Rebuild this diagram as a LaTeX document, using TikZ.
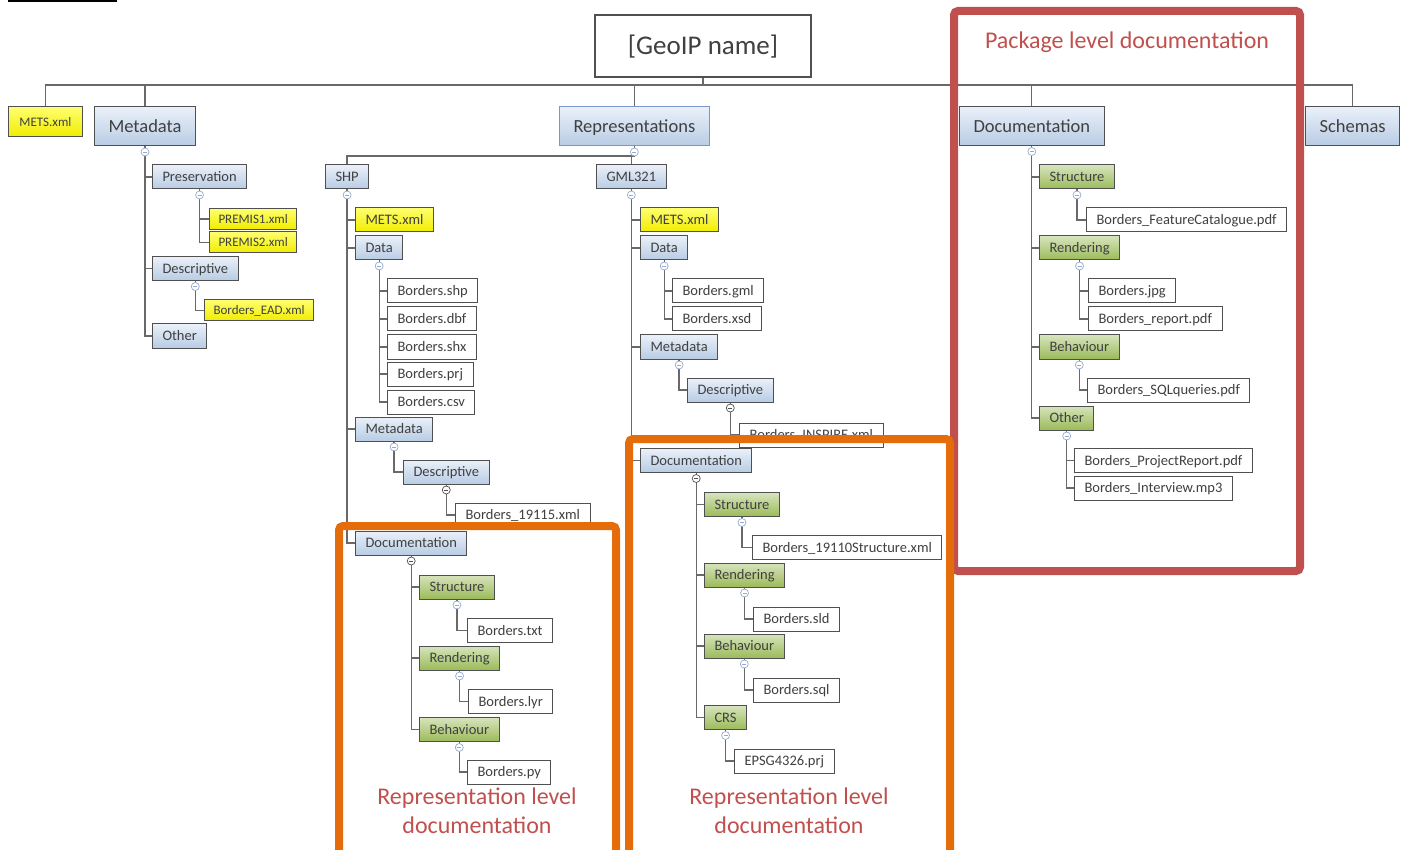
\documentclass[tikz,border=0pt]{standalone}
\usepackage{fontspec}
\setmainfont{Carlito}
\usepackage{tikz}
\usetikzlibrary{backgrounds, calc}
\definecolor{txt}{RGB}{64, 64, 64}
\definecolor{boxline}{RGB}{80, 80, 80}
\definecolor{linegray}{RGB}{105, 105, 105}
\definecolor{blueTop}{RGB}{234, 240, 249}
\definecolor{blueBot}{RGB}{184, 204, 228}
\definecolor{repsline}{RGB}{120, 152, 205}
\definecolor{yelTop}{RGB}{255, 255, 110}
\definecolor{yelBot}{RGB}{240, 236, 0}
\definecolor{grnTop}{RGB}{215, 228, 189}
\definecolor{grnBot}{RGB}{155, 187, 89}
\definecolor{knobblue}{RGB}{150, 170, 205}
\definecolor{redframe}{RGB}{192, 80, 77}
\definecolor{orangeframe}{RGB}{228, 108, 10}

\tikzset{
  box/.style={draw=boxline, line width=1pt, anchor=west, inner xsep=10pt, inner ysep=0pt,
    minimum height=24pt, text=txt, text height=12.8pt, text depth=3.2pt,
    font=\fontsize{14.5}{16}\selectfont},
  bluebox/.style={box, top color=blueTop, bottom color=blueBot},
  yelbox/.style={box, top color=yelTop, bottom color=yelBot},
  greenbox/.style={box, top color=grnTop, bottom color=grnBot},
  filebox/.style={box, fill=white},
  big/.style={minimum height=39pt, inner xsep=14pt, text height=16.2pt, text depth=4pt,
    font=\fontsize{18.5}{20}\selectfont},
  small/.style={minimum height=21pt, inner xsep=9pt, text height=11.6pt, text depth=3pt,
    font=\fontsize{13}{15}\selectfont},
  rootbox/.style={draw=boxline, line width=1.2pt, fill=white, minimum width=216pt,
    minimum height=62pt, text=txt, text height=24pt, text depth=6pt,
    font=\fontsize{27}{30}\selectfont},
  link/.style={draw=linegray, line width=1.3pt},
  knob/.style={circle, draw=#1, fill=white, line width=0.7pt, inner sep=0pt, minimum size=8pt,
    path picture={\draw[#1, line width=0.7pt] ([xshift=-2pt]path picture bounding box.center)
      -- ([xshift=2pt]path picture bounding box.center);}},
  knob/.default=knobblue,
  labeltext/.style={text=redframe, align=center, font=\fontsize{24}{29}\selectfont}
}

\begin{document}
\begin{tikzpicture}[x=1pt, y=-1pt]
  \useasboundingbox (0, 0) rectangle (1403, 850);
  \draw[color=black, line width=1.5pt] (8, 1) to (117, 1);

  % top level
  \node[rootbox] (root) at (703, 46) {[GeoIP name]};
  \node[yelbox, small, minimum height=30pt, inner xsep=11pt] (mets) at (8, 122) {METS.xml};
  \node[bluebox, big] (meta) at (94, 126.5) {Metadata};
  \node[bluebox, big, draw=repsline] (reps) at (559, 126.5) {Representations};
  \node[bluebox, big] (docs) at (959, 126) {Documentation};
  \node[bluebox, big] (schemas) at (1305, 126) {Schemas};

  % metadata
  \node[bluebox] (pres) at (152, 177) {Preservation};
  \node[yelbox, small] (premA) at (209, 219) {PREMIS1.xml};
  \node[yelbox, small] (premB) at (209, 242.5) {PREMIS2.xml};
  \node[bluebox] (mdesc) at (152, 268.5) {Descriptive};
  \node[yelbox, small] (ead) at (204, 310.5) {Borders\_EAD.xml};
  \node[bluebox] (mother) at (152, 336) {Other};

  % SHP
  \node[bluebox] (shp) at (325, 177) {SHP};
  \node[yelbox] (shpmets) at (355, 220) {METS.xml};
  \node[bluebox] (shpdata) at (355, 248) {Data};
  \node[filebox] (shpA) at (387, 291) {Borders.shp};
  \node[filebox] (shpB) at (387, 319) {Borders.dbf};
  \node[filebox] (shpC) at (387, 347) {Borders.shx};
  \node[filebox] (shpD) at (387, 374) {Borders.prj};
  \node[filebox] (shpE) at (387, 402) {Borders.csv};
  \node[bluebox] (shpmeta) at (355, 429) {Metadata};
  \node[bluebox] (shpdesc) at (403, 472) {Descriptive};
  \node[filebox] (shpiso) at (455, 515) {Borders\_19115.xml};
  \node[bluebox] (shpdoc) at (355, 543) {Documentation};
  \node[greenbox] (shpstr) at (419, 587) {Structure};
  \node[filebox] (shptxt) at (467, 630.5) {Borders.txt};
  \node[greenbox] (shpren) at (419, 658) {Rendering};
  \node[filebox] (shplyr) at (468, 701.5) {Borders.lyr};
  \node[greenbox] (shpbeh) at (419, 729.5) {Behaviour};
  \node[filebox] (shppy) at (467, 772) {Borders.py};

  % GML321
  \node[bluebox] (gml) at (596, 177) {GML321};
  \node[yelbox] (gmlmets) at (640, 220) {METS.xml};
  \node[bluebox] (gmldata) at (640, 248) {Data};
  \node[filebox] (gmlA) at (672, 291) {Borders.gml};
  \node[filebox] (gmlB) at (672, 319) {Borders.xsd};
  \node[bluebox] (gmlmeta) at (640, 347) {Metadata};
  \node[bluebox] (gmldesc) at (687, 390) {Descriptive};
  \node[filebox] (gmlinsp) at (739, 435) {Borders\_INSPIRE.xml};
  \node[bluebox] (gmldoc) at (640, 460.5) {Documentation};
  \node[greenbox] (gmlstr) at (704, 504.5) {Structure};
  \node[filebox] (gmlxml) at (752, 547.5) {Borders\_19110Structure.xml};
  \node[greenbox] (gmlren) at (704, 575) {Rendering};
  \node[filebox] (gmlsld) at (753, 619) {Borders.sld};
  \node[greenbox] (gmlbeh) at (704, 646) {Behaviour};
  \node[filebox] (gmlsql) at (753, 690) {Borders.sql};
  \node[greenbox] (gmlcrs) at (704, 717.5) {CRS};
  \node[filebox] (gmlprj) at (734, 761) {EPSG4326.prj};

  % package documentation
  \node[greenbox] (dstr) at (1039, 177) {Structure};
  \node[filebox] (dcat) at (1086, 220) {Borders\_FeatureCatalogue.pdf};
  \node[greenbox] (dren) at (1039, 248) {Rendering};
  \node[filebox] (djpg) at (1088, 291) {Borders.jpg};
  \node[filebox] (drep) at (1088, 319) {Borders\_report.pdf};
  \node[greenbox] (dbeh) at (1039, 347) {Behaviour};
  \node[filebox] (dsql) at (1087, 390) {Borders\_SQLqueries.pdf};
  \node[greenbox] (doth) at (1039, 418) {Other};
  \node[filebox] (dproj) at (1074, 460.5) {Borders\_ProjectReport.pdf};
  \node[filebox] (dint) at (1074, 488) {Borders\_Interview.mp3};

  \begin{scope}[on background layer]
    \coordinate (bar) at (0, 85);
    \coordinate (rbar) at (0, 156);
    \draw[link] (root.south) to (root.south |- bar);
    \draw[link] (mets.north) to (mets.north |- bar) -| (schemas.north);
    \foreach \t in {meta, reps, docs}
      \draw[link] (\t.north) to (\t.north |- bar);
    \draw[link] (reps.south) to (reps.south |- rbar) -| (shp.north);
    \draw[link] (reps.south |- rbar) -| (gml.north);
    \foreach \p/\c in {meta/pres, pres/premA, pres/premB, meta/mdesc, mdesc/ead, meta/mother,
        shp/shpmets, shp/shpdata, shpdata/shpA, shpdata/shpB, shpdata/shpC, shpdata/shpD,
        shpdata/shpE, shp/shpmeta, shpmeta/shpdesc, shpdesc/shpiso, shp/shpdoc,
        shpdoc/shpstr, shpstr/shptxt, shpdoc/shpren, shpren/shplyr, shpdoc/shpbeh, shpbeh/shppy,
        gml/gmlmets, gml/gmldata, gmldata/gmlA, gmldata/gmlB, gml/gmlmeta, gmlmeta/gmldesc,
        gmldesc/gmlinsp, gml/gmldoc, gmldoc/gmlstr, gmlstr/gmlxml, gmldoc/gmlren, gmlren/gmlsld,
        gmldoc/gmlbeh, gmlbeh/gmlsql, gmldoc/gmlcrs, gmlcrs/gmlprj,
        docs/dstr, dstr/dcat, docs/dren, dren/djpg, dren/drep, docs/dbeh, dbeh/dsql,
        docs/doth, doth/dproj, doth/dint}
      \draw[link] (\p) |- (\c);
  \end{scope}

  \foreach \p in {meta, pres, mdesc, reps, shp, shpdata, shpmeta, shpstr, shpren, shpbeh,
      gml, gmldata, gmlmeta, gmlstr, gmlren, gmlbeh, gmlcrs, docs, dstr, dren, dbeh, doth}
    \node[knob] at ([yshift=-5.5pt]\p.south) {};
  \foreach \p in {shpdesc, shpdoc, gmldesc, gmldoc}
    \node[knob=boxline] at ([yshift=-5.5pt]\p.south) {};

  % frames
  \draw[draw=redframe, line width=8pt, rounded corners=4pt] (954, 11) rectangle (1300, 571);
  \node[labeltext] (pkglabel) at (1127, 42) {Package level documentation};
  \draw[draw=orangeframe, line width=8pt, rounded corners=4pt] (339, 526) rectangle (616, 880);
  \draw[draw=orangeframe, line width=8pt, rounded corners=4pt] (629, 439) rectangle (950, 880);
  \node[labeltext] (replabA) at (477, 811) {Representation level\\documentation};
  \node[labeltext] (replabB) at (789, 810.5) {Representation level\\documentation};
\end{tikzpicture}
\end{document}
